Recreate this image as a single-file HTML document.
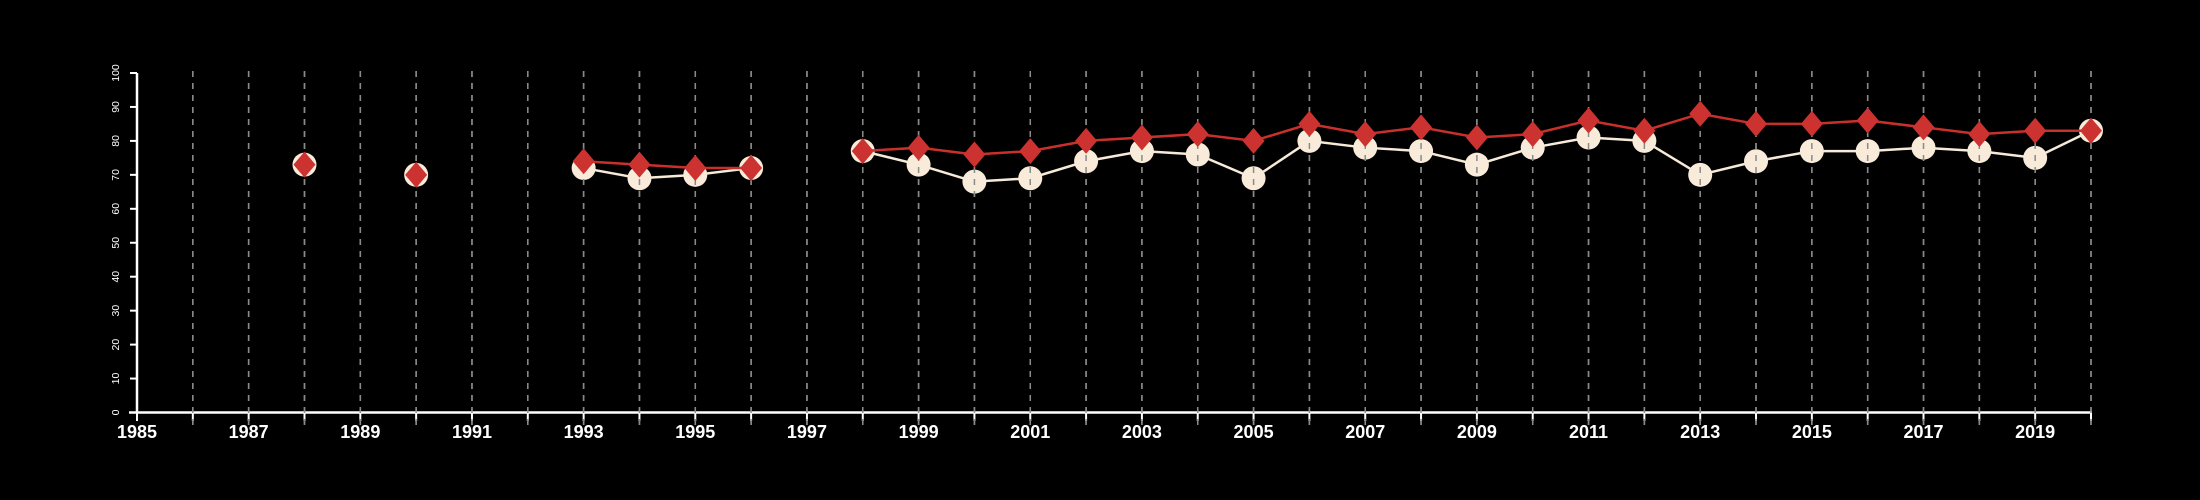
<!DOCTYPE html>
<html><head><meta charset="utf-8"><style>
html,body{margin:0;padding:0;background:#000;}
svg{display:block;}
</style></head><body>
<svg id="chart" width="2200" height="500" xmlns="http://www.w3.org/2000/svg" style="background:#000;font-family:'Liberation Sans',sans-serif">
<g id="grid"></g>
<g id="axes"></g>
<g id="series"></g>
</svg>
<script>
const years = [1988,1990,1993,1994,1995,1996,1998,1999,2000,2001,2002,2003,2004,2005,2006,2007,2008,2009,2010,2011,2012,2013,2014,2015,2016,2017,2018,2019,2020];
const redValues = [73,70,74,73,72,72,77,78,76,77,80,81,82,80,85,82,84,81,82,86,83,88,85,85,86,84,82,83,83];
const creamValues = [73,70,72,69,70,72,77,73,68,69,74,77,76,69,80,78,77,73,78,81,80,70,74,77,77,78,77,75,83];
const yTicks = [0,10,20,30,40,50,60,70,80,90,100];
const xLabelYears = [1985,1987,1989,1991,1993,1995,1997,1999,2001,2003,2005,2007,2009,2011,2013,2015,2017,2019];

const NS='http://www.w3.org/2000/svg';
const X0=137, X1=2091, Y0=412.5, Y1=73, XMIN=1985, XMAX=2020;
function xs(v){return X0+(v-XMIN)/(XMAX-XMIN)*(X1-X0);}
function ys(v){return Y0-(v/100)*(Y0-Y1);}
function mk(tag,attrs,parent){const e=document.createElementNS(NS,tag);for(const k in attrs)e.setAttribute(k,attrs[k]);parent.appendChild(e);return e;}
const grid=document.getElementById('grid'),axes=document.getElementById('axes'),series=document.getElementById('series');

// axes
let ax=mk('line',{x1:X0,y1:Y1,x2:X0,y2:Y0,stroke:'#fff','stroke-width':2.5},axes);


let bx=mk('line',{x1:129,y1:Y0,x2:X1+1,y2:Y0,stroke:'#fff','stroke-width':2.5},axes);


yTicks.forEach(t=>{
  const y=ys(t);
  const l=mk('line',{x1:X0-7,y1:y,x2:X0,y2:y,stroke:'#fff','stroke-width':2},axes);
  
  
  const tx=mk('text',{x:0,y:0,fill:'#fff','font-size':10.5,'text-anchor':'middle',transform:`translate(119,${y}) rotate(-90)`},axes);
  
  
  tx.textContent=t;
});
for(let yr=XMIN;yr<=XMAX;yr++){
  const x=xs(yr);
  const l=mk('line',{x1:x,y1:Y0,x2:x,y2:421,stroke:'#fff','stroke-width':2},axes);
  
  
  if(yr>XMIN){
    const g=mk('line',{x1:x,y1:Y1-2,x2:x,y2:428,stroke:'#8a8a8a','stroke-width':1.5,'stroke-dasharray':'6,6'},grid);
    
    
  }
}
xLabelYears.forEach(yr=>{
  const t=mk('text',{x:xs(yr),y:438,fill:'#fff','font-size':18,'font-weight':'bold','text-anchor':'middle'},axes);
  
  
  t.textContent=yr;
});

function drawLines(vals,color,name,parent){
  let seg=[];
  const flush=()=>{if(seg.length>1){const p=mk('polyline',{points:seg.map(q=>q.join(',')).join(' '),fill:'none',stroke:color,'stroke-width':2.5},parent);
    
    }seg=[];};
  years.forEach((yr,i)=>{
    if(i>0 && yr-years[i-1]>1) flush();
    seg.push([xs(yr),ys(vals[i])]);
  });
  flush();
}
// cream series
const cg=mk('g',{},series);


drawLines(creamValues,'#f7ead8','cream-line',cg);
years.forEach((yr,i)=>{
  const c=mk('circle',{cx:xs(yr),cy:ys(creamValues[i]),r:12,fill:'#f9ebd9'},cg);
  
  
});
// grid over circles
const grid2=grid.cloneNode(true);


series.appendChild(grid2);
// red series
const rg=mk('g',{},series);


drawLines(redValues,'#c9302c','red-line',rg);
years.forEach((yr,i)=>{
  const x=xs(yr),y=ys(redValues[i]);
  const d=mk('polygon',{points:`${x},${y-13} ${x+11},${y} ${x},${y+13} ${x-11},${y}`,fill:'#cc3330'},rg);
  
  
});
</script>
</body></html>
